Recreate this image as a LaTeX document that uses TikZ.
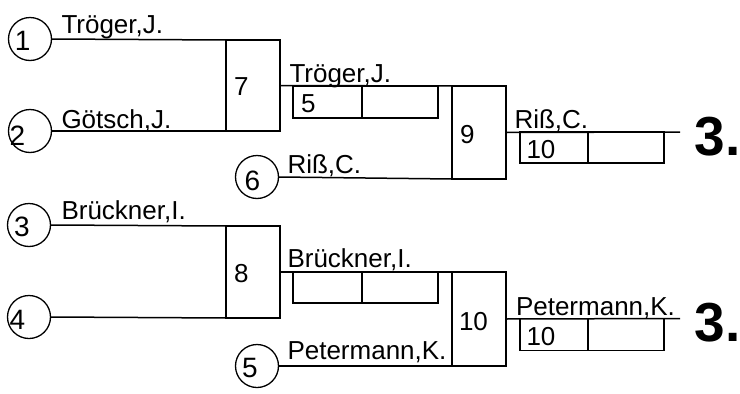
\documentclass[tikz,border=0pt]{standalone}
\usepackage{fontspec}
\setmainfont{Liberation Sans}
\begin{document}
\begin{tikzpicture}[x=1pt,y=-1pt, line width=1.5pt,
  circ/.style={draw, circle, minimum size=43pt, inner sep=0pt, line width=1.3pt},
  box/.style={draw, rectangle, inner sep=0pt, outer sep=0pt},
  lbl/.style={anchor=base west, inner sep=0pt, outer sep=0pt, font=\fontsize{26}{27}\selectfont},
  cnum/.style={anchor=base west, inner sep=0pt, outer sep=0pt, font=\fontsize{28}{29}\selectfont},
  big/.style={anchor=base west, inner sep=0pt, outer sep=0pt, font=\fontsize{55}{56}\selectfont\bfseries}]
\useasboundingbox (0,0) rectangle (740,394);
% circles
\node[circ] (c1) at (30,39) {};
\node[circ] (c2) at (30,131) {};
\node[circ] (c3) at (29,225) {};
\node[circ] (c4) at (29,317) {};
\node[circ] (c6) at (257,177) {};
\node[circ] (c5) at (257,366) {};
\node[cnum] (d1) at (15,50.5) {1};
\node[cnum] (d2) at (9.5,145) {2};
\node[cnum] (d3) at (14,236) {3};
\node[cnum] (d4) at (9.5,329.5) {4};
\node[cnum] (d6) at (244.5,190.5) {6};
\node[cnum] (d5) at (242,377) {5};
% round boxes
\node[box, minimum width=54pt, minimum height=91pt] (b7) at (253,85.5) {};
\node[box, minimum width=54pt, minimum height=92pt] (b8) at (253,272) {};
\node[box, minimum width=54pt, minimum height=93pt] (b9) at (479,132.5) {};
\node[box, minimum width=54pt, minimum height=94pt] (b10) at (479,319) {};
\node[lbl] (n7) at (234,95) {7};
\node[lbl] (n8) at (234,282) {8};
\node[lbl] (n9) at (460,143) {9};
\node[lbl] (n10) at (459,330) {10};
% connectors
\draw (c1.east) -- (b7.north west);
\draw (c2.east) -- (b7.south west);
\draw (c3.east) -- (b8.north west);
\draw (c4.east) -- (b8.south west);
\draw (b7.east) -- (b9.north west);
\draw (c6.east) -- (b9.south west);
\draw (b8.east) -- (b10.north west);
\draw (c5.east) -- (b10.south west);
\coordinate (e9) at (680,132);
\coordinate (e10) at (680,318.5);
\draw (b9.east) -- (e9);
\draw (b10.east) -- (e10);
% result boxes
\node[box, minimum width=69pt, minimum height=32pt] (r7a) at (327.5,102) {};
\node[box, minimum width=76pt, minimum height=32pt] (r7b) at (400,102) {};
\node[box, minimum width=69pt, minimum height=31pt] (r8a) at (327.5,287.5) {};
\node[box, minimum width=76pt, minimum height=31pt] (r8b) at (400,287.5) {};
\node[box, minimum width=68pt, minimum height=31pt] (r9a) at (554,147.5) {};
\node[box, minimum width=76pt, minimum height=31pt] (r9b) at (626,147.5) {};
\node[box, minimum width=68pt, minimum height=32pt] (r10a) at (554,334.5) {};
\node[box, minimum width=76pt, minimum height=32pt] (r10b) at (626,334.5) {};
\node[lbl] (s5) at (301,112) {5};
\node[lbl] (s9) at (526.5,158) {10};
\node[lbl] (s10) at (526.5,345) {10};
% names
\node[lbl] at (61.5,33) {Tröger,J.};
\node[lbl] at (61.5,128) {Götsch,J.};
\node[lbl] at (61.5,219.5) {Brückner,I.};
\node[lbl] at (289.5,82) {Tröger,J.};
\node[lbl] at (287.5,173.5) {Riß,C.};
\node[lbl] at (287.5,267) {Brückner,I.};
\node[lbl] at (287.5,359.5) {Petermann,K.};
\node[lbl] at (514.5,128) {Riß,C.};
\node[lbl] at (516,315) {Petermann,K.};
% places
\node[big] (p1) at (694.5,155) {3.};
\node[big] (p2) at (694.5,341.5) {3.};
\end{tikzpicture}
\end{document}
